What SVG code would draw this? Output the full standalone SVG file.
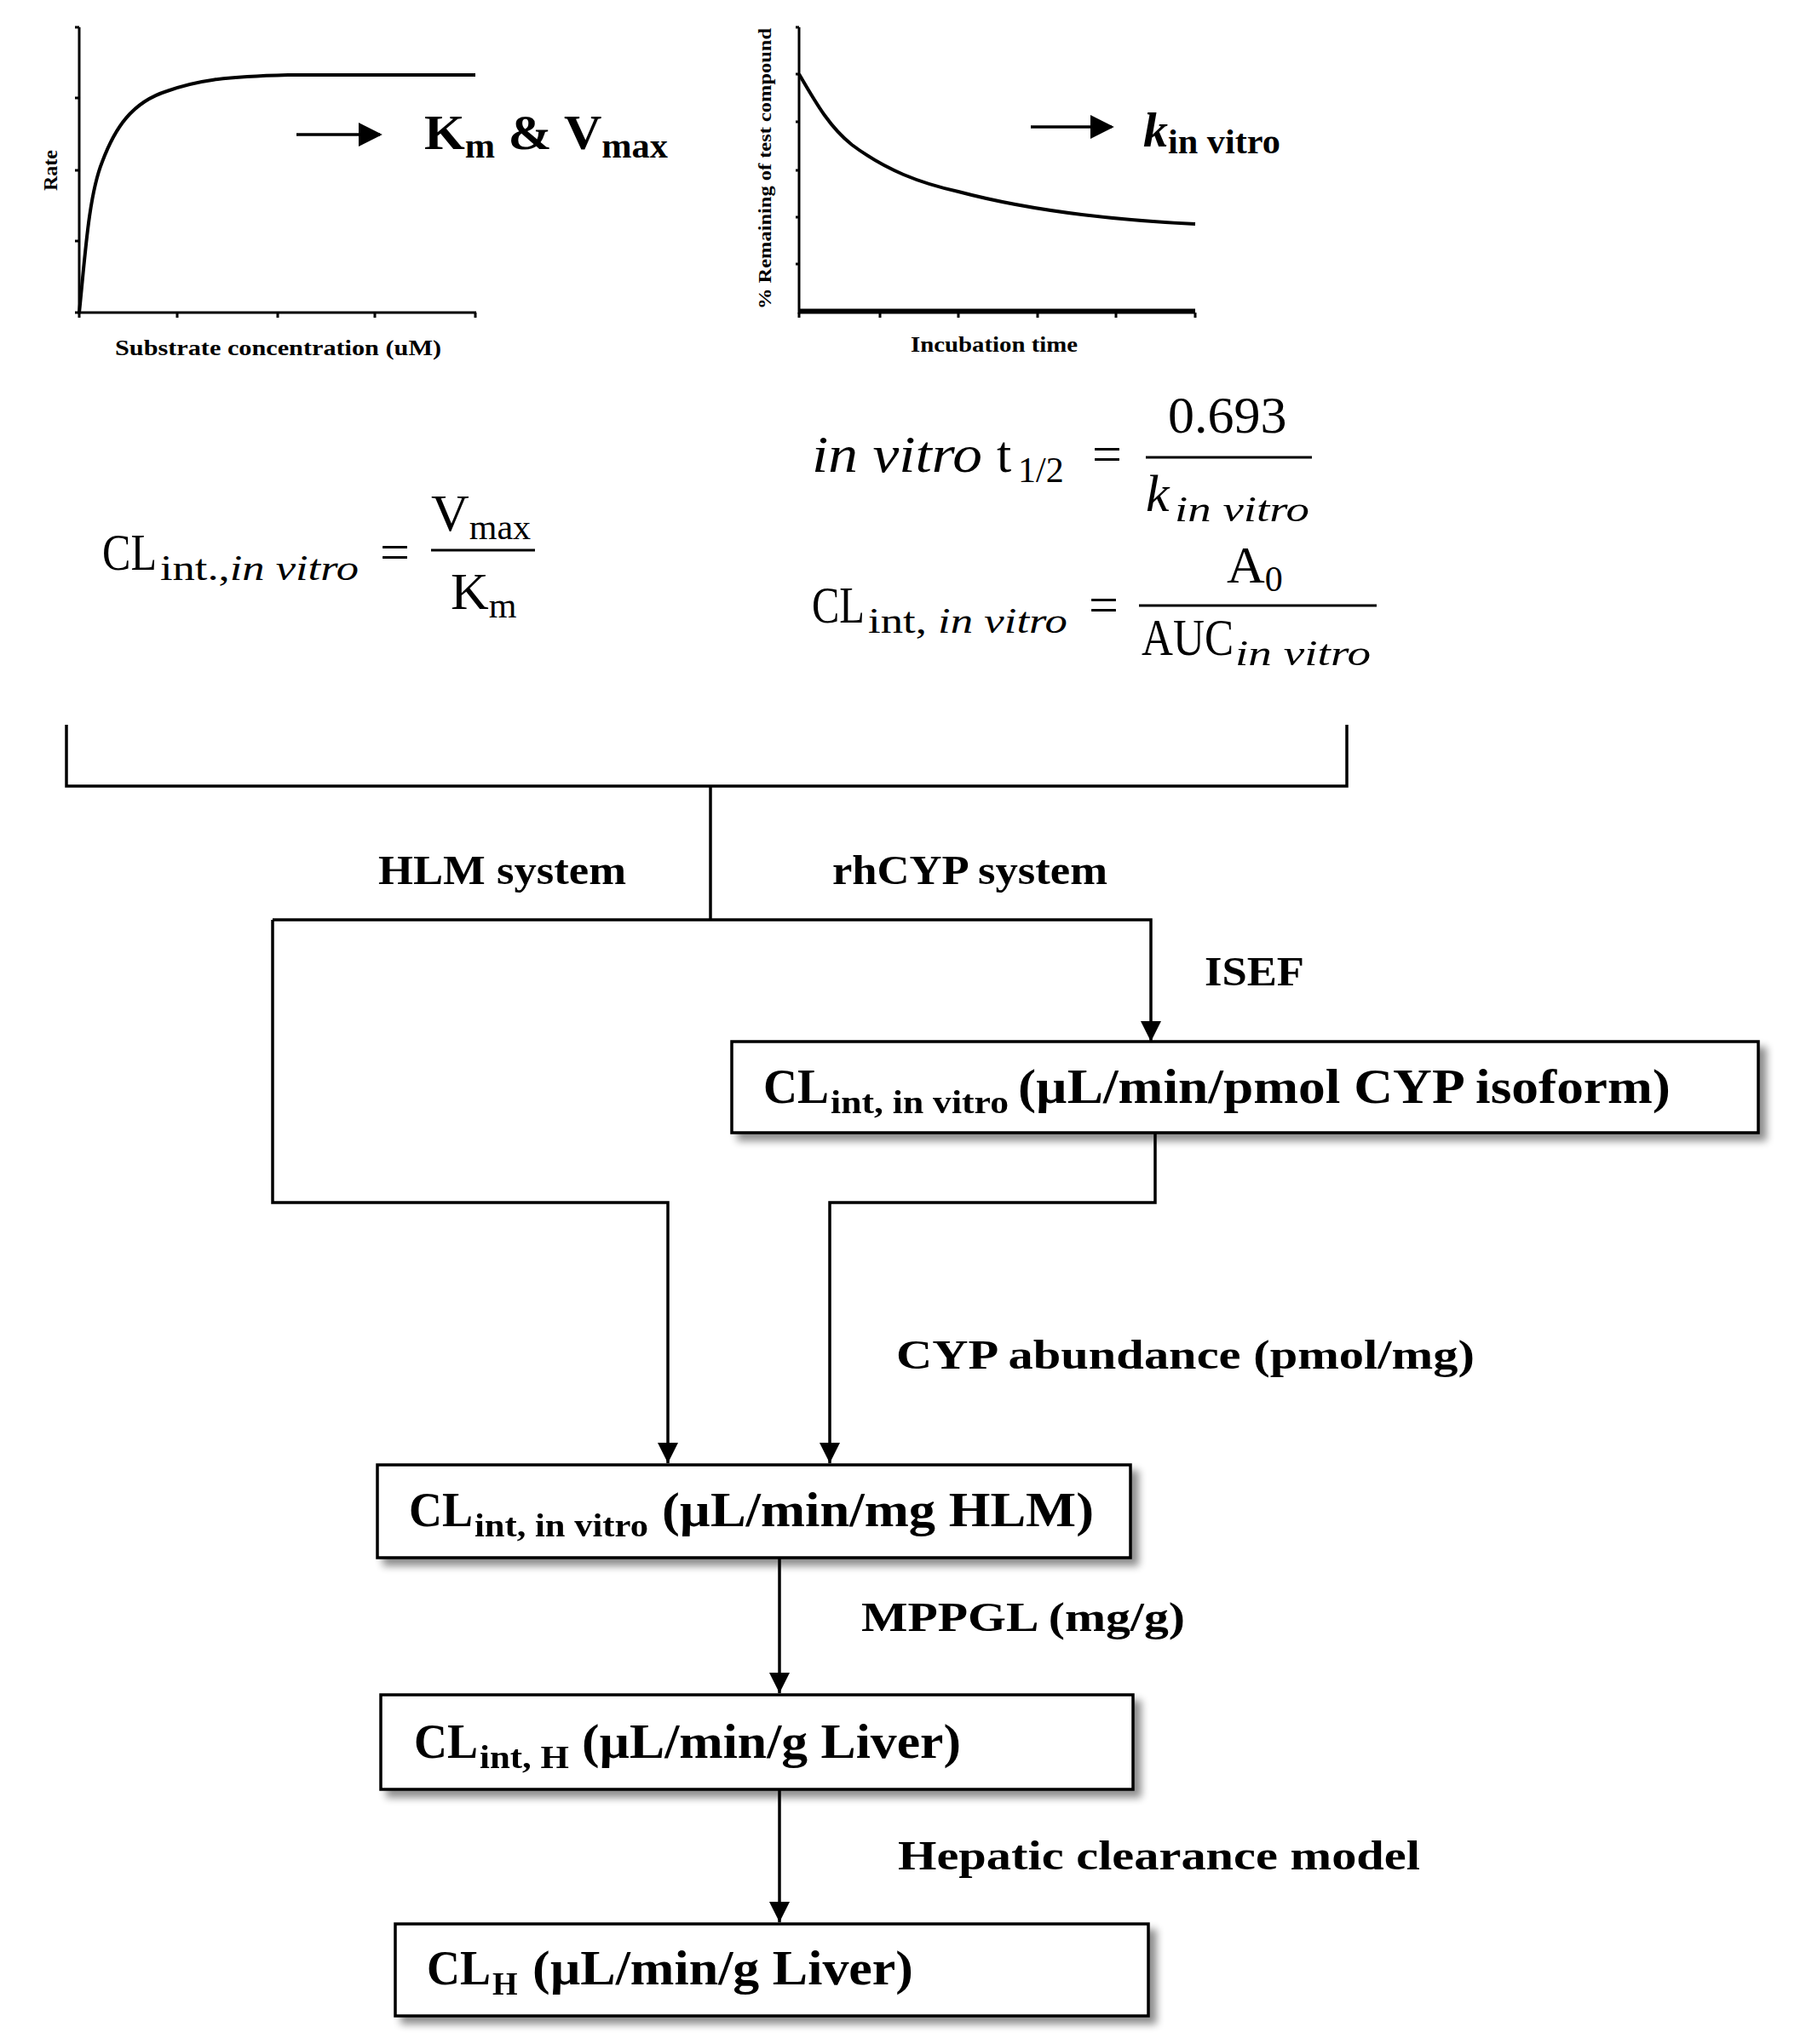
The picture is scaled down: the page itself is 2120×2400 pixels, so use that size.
<svg xmlns="http://www.w3.org/2000/svg" width="2120" height="2400" viewBox="0 0 2120 2400">
<style>
.ax{stroke:#000;stroke-width:3;fill:none}
.cv{stroke:#000;stroke-width:4;fill:none}
.ln{stroke:#000;stroke-width:3.5;fill:none}
.ser{font-family:"Liberation Serif",serif;fill:#000}
.b{font-weight:bold}
.m{font-family:"Liberation Serif",serif;font-size:62px;fill:#000}
.ms{font-family:"Liberation Serif",serif;font-size:42px;fill:#000}
.i{font-style:italic}
.box{fill:#fff;stroke:#000;stroke-width:3.5}
.bt{font-family:"Liberation Serif",serif;font-weight:bold;font-size:56px;fill:#000}
.bs{font-family:"Liberation Serif",serif;font-weight:bold;font-size:38px;fill:#000}
.lb{font-family:"Liberation Serif",serif;font-weight:bold;font-size:48px;fill:#000}
</style>
<defs>
<marker id="ah" viewBox="0 0 10 10" refX="10" refY="5" markerWidth="24" markerHeight="26" markerUnits="userSpaceOnUse" orient="auto">
<path d="M0,0 L10,5 L0,10 z" fill="#000"/>
</marker>
<marker id="ah2" viewBox="0 0 10 10" refX="9" refY="5" markerWidth="8" markerHeight="8" orient="auto">
<path d="M0,0 L10,5 L0,10 z" fill="#000"/>
</marker>
<filter id="sh" x="-5%" y="-20%" width="112%" height="150%">
<feGaussianBlur in="SourceAlpha" stdDeviation="5"/>
<feOffset dx="8" dy="8" result="o"/>
<feComponentTransfer><feFuncA type="linear" slope="0.45"/></feComponentTransfer>
<feMerge><feMergeNode/><feMergeNode in="SourceGraphic"/></feMerge>
</filter>
</defs>
<rect width="2120" height="2400" fill="#fff"/>

<g id="chart1">
<path class="ax" d="M93,32 V367 H559"/>
<path class="ax" d="M88,32 H93 M88,115 H93 M88,200 H93 M88,283 H93 M88,367 H93 M93,367 V373 M208,367 V373 M326,367 V373 M440,367 V373 M558,367 V373"/>
<path class="cv" d="M93,367 C100,300 104,230 120,190 C135,150 155,120 196,107 C230,95 260,90 338,88 L558,88"/>
<text class="ser b" font-size="24" transform="translate(67,200) rotate(-90)" text-anchor="middle">Rate</text>
<text class="ser b" font-size="26" x="135" y="417" textLength="383" lengthAdjust="spacingAndGlyphs">Substrate concentration (uM)</text>
<line class="ln" x1="348" y1="158" x2="446" y2="158" stroke-width="5" marker-end="url(#ah2)"/>
<text class="ser b" font-size="58" x="498" y="175" textLength="286" lengthAdjust="spacingAndGlyphs">K<tspan font-size="40" dy="10">m</tspan><tspan dy="-10"> &amp; V</tspan><tspan font-size="40" dy="10">max</tspan></text>
</g>

<g id="chart2">
<path class="ax" d="M938,32 V367 H1403"/>
<path class="ax" d="M934,32 H938 M934,87 H938 M934,143 H938 M934,200 H938 M934,255 H938 M934,310 H938 M938,367 V373 M1033,367 V373 M1125,367 V373 M1218,367 V373 M1310,367 V373 M1403,367 V373"/>
<line x1="938" y1="365" x2="1403" y2="365" stroke="#000" stroke-width="5"/>
<path class="cv" d="M938,87 C960,125 975,150 1000,170 C1040,200 1080,215 1125,225 C1200,245 1300,258 1403,263"/>
<text class="ser b" font-size="20" transform="translate(905,198) rotate(-90)" text-anchor="middle" textLength="330" lengthAdjust="spacingAndGlyphs">% Remaining of test compound</text>
<text class="ser b" font-size="26" x="1167" y="413" text-anchor="middle" textLength="196" lengthAdjust="spacingAndGlyphs">Incubation time</text>
<line class="ln" x1="1210" y1="149" x2="1305" y2="149" stroke-width="5" marker-end="url(#ah2)"/>
<text class="ser b" font-size="58" x="1342" y="172"><tspan font-style="italic">k</tspan><tspan font-size="40" dy="8" textLength="132" lengthAdjust="spacingAndGlyphs">in vitro</tspan></text>
</g>

<g id="formula1">
<text class="m" x="120" y="669" textLength="64" lengthAdjust="spacingAndGlyphs">CL</text>
<text class="ms" x="188" y="681" textLength="233" lengthAdjust="spacingAndGlyphs">int.,<tspan class="i">in vitro</tspan></text>
<text class="m" x="446" y="669">=</text>
<line x1="506" y1="646" x2="628" y2="646" stroke="#000" stroke-width="3"/>
<text class="m" x="506" y="623">V<tspan class="ms" dy="10">max</tspan></text>
<text class="m" x="529" y="715">K<tspan class="ms" dy="10">m</tspan></text>
</g>

<g id="formula2">
<text class="m i" x="953" y="554" textLength="200" lengthAdjust="spacingAndGlyphs">in vitro</text>
<text class="m" x="1170" y="554">t</text>
<text class="ms" x="1195" y="566">1/2</text>
<text class="m" x="1282" y="554">=</text>
<line x1="1345" y1="537" x2="1540" y2="537" stroke="#000" stroke-width="3"/>
<text class="m" x="1371" y="508">0.693</text>
<text class="m i" x="1345" y="600">k</text>
<text class="ms i" x="1379" y="612" textLength="158" lengthAdjust="spacingAndGlyphs">in vitro</text>
</g>

<g id="formula3">
<text class="m" x="953" y="731" textLength="62" lengthAdjust="spacingAndGlyphs">CL</text>
<text class="ms" x="1019" y="743" textLength="234" lengthAdjust="spacingAndGlyphs">int, <tspan class="i">in vitro</tspan></text>
<text class="m" x="1278" y="731">=</text>
<line x1="1337" y1="711" x2="1616" y2="711" stroke="#000" stroke-width="3"/>
<text class="m" x="1440" y="684">A<tspan class="ms" dy="10">0</tspan></text>
<text class="m" x="1340" y="769" textLength="108" lengthAdjust="spacingAndGlyphs">AUC</text>
<text class="ms i" x="1450" y="781" textLength="159" lengthAdjust="spacingAndGlyphs">in vitro</text>
</g>

<g id="connectors">
<path class="ln" d="M78,851 V923 H1581 V851"/>
<path class="ln" d="M834,923 V1080"/>
<path class="ln" d="M320,1080 H1351 V1223" marker-end="url(#ah)"/>
<path class="ln" d="M320,1080 V1412 H784 V1718" marker-end="url(#ah)"/>
<path class="ln" d="M1356,1330 V1412 H974 V1718" marker-end="url(#ah)"/>
<path class="ln" d="M915,1829 V1988" marker-end="url(#ah)"/>
<path class="ln" d="M915,2101 V2257" marker-end="url(#ah)"/>
</g>

<g id="labels">
<text class="lb" x="444" y="1038" textLength="291" lengthAdjust="spacingAndGlyphs">HLM system</text>
<text class="lb" x="977" y="1038" textLength="323" lengthAdjust="spacingAndGlyphs">rhCYP system</text>
<text class="lb" x="1414" y="1157" textLength="117" lengthAdjust="spacingAndGlyphs">ISEF</text>
<text class="lb" x="1052" y="1607" textLength="679" lengthAdjust="spacingAndGlyphs">CYP abundance (pmol/mg)</text>
<text class="lb" x="1011" y="1915" textLength="380" lengthAdjust="spacingAndGlyphs">MPPGL (mg/g)</text>
<text class="lb" x="1054" y="2195" textLength="613" lengthAdjust="spacingAndGlyphs">Hepatic clearance model</text>
</g>

<g id="box-rhcyp" filter="url(#sh)">
<rect class="box" x="859" y="1223" width="1205" height="107"/>
<text class="bt" x="896" y="1295" textLength="77" lengthAdjust="spacingAndGlyphs">CL</text>
<text class="bs" x="975" y="1307" textLength="209" lengthAdjust="spacingAndGlyphs">int, in vitro</text>
<text class="bt" x="1195" y="1295" textLength="766" lengthAdjust="spacingAndGlyphs">(µL/min/pmol CYP isoform)</text>
</g>

<g id="box-hlm" filter="url(#sh)">
<rect class="box" x="443" y="1720" width="884" height="109"/>
<text class="bt" x="480" y="1792" textLength="75" lengthAdjust="spacingAndGlyphs">CL</text>
<text class="bs" x="557" y="1804" textLength="204" lengthAdjust="spacingAndGlyphs">int, in vitro</text>
<text class="bt" x="777" y="1792" textLength="507" lengthAdjust="spacingAndGlyphs">(µL/min/mg HLM)</text>
</g>

<g id="box-clinth" filter="url(#sh)">
<rect class="box" x="447" y="1990" width="883" height="111"/>
<text class="bt" x="486" y="2064" textLength="75" lengthAdjust="spacingAndGlyphs">CL</text>
<text class="bs" x="563" y="2076" textLength="105" lengthAdjust="spacingAndGlyphs">int, H</text>
<text class="bt" x="683" y="2064" textLength="445" lengthAdjust="spacingAndGlyphs">(µL/min/g Liver)</text>
</g>

<g id="box-clh" filter="url(#sh)">
<rect class="box" x="464" y="2259" width="884" height="108"/>
<text class="bt" x="501" y="2330" textLength="75" lengthAdjust="spacingAndGlyphs">CL</text>
<text class="bs" x="578" y="2342">H</text>
<text class="bt" x="625" y="2330" textLength="447" lengthAdjust="spacingAndGlyphs">(µL/min/g Liver)</text>
</g>
</svg>
